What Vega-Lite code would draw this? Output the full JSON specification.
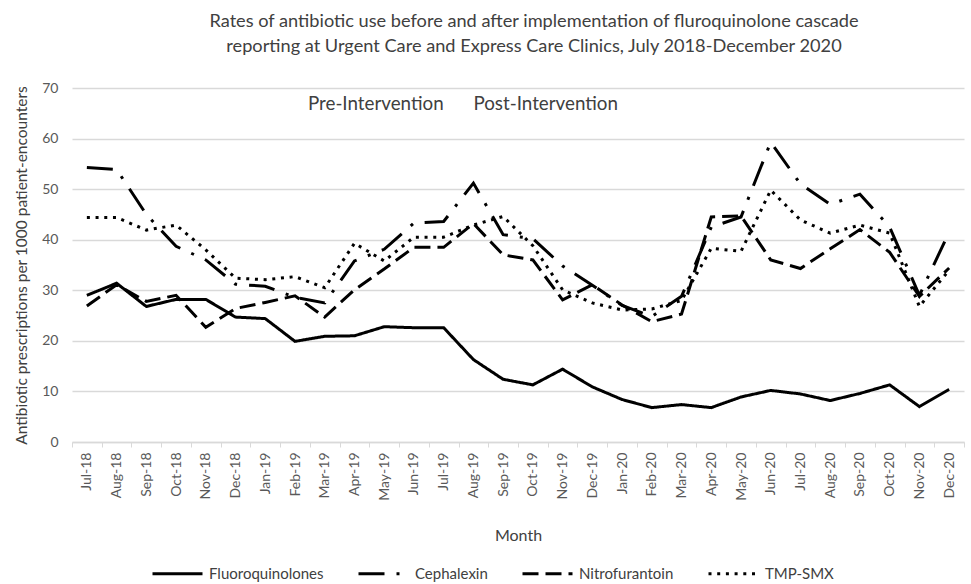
{
  "$schema": "https://vega.github.io/schema/vega-lite/v6.json",
  "autosize": {"type": "none"},
  "padding": {"left": 72, "top": 88, "right": 7, "bottom": 142},
  "width": 892,
  "height": 354,
  "background": "white",
  "title": {
    "text": ["Rates of antibiotic use before and after implementation of fluroquinolone cascade", "reporting at Urgent Care and Express Care Clinics, July 2018-December 2020"],
    "font": "Lato", "fontSize": 18.2, "fontWeight": "normal", "color": "#404040",
    "lineHeight": 25, "offset": 25, "dx": 16, "anchor": "middle", "frame": "group"
  },
  "datasets": {
    "rates": [
      {"month":"Jul-18","drug":"Fluoroquinolones","value":29.0},{"month":"Aug-18","drug":"Fluoroquinolones","value":31.4},{"month":"Sep-18","drug":"Fluoroquinolones","value":26.8},{"month":"Oct-18","drug":"Fluoroquinolones","value":28.2},{"month":"Nov-18","drug":"Fluoroquinolones","value":28.2},{"month":"Dec-18","drug":"Fluoroquinolones","value":24.7},{"month":"Jan-19","drug":"Fluoroquinolones","value":24.4},{"month":"Feb-19","drug":"Fluoroquinolones","value":19.9},{"month":"Mar-19","drug":"Fluoroquinolones","value":20.9},{"month":"Apr-19","drug":"Fluoroquinolones","value":21.0},{"month":"May-19","drug":"Fluoroquinolones","value":22.8},{"month":"Jun-19","drug":"Fluoroquinolones","value":22.6},{"month":"Jul-19","drug":"Fluoroquinolones","value":22.6},{"month":"Aug-19","drug":"Fluoroquinolones","value":16.3},{"month":"Sep-19","drug":"Fluoroquinolones","value":12.4},{"month":"Oct-19","drug":"Fluoroquinolones","value":11.3},{"month":"Nov-19","drug":"Fluoroquinolones","value":14.4},{"month":"Dec-19","drug":"Fluoroquinolones","value":10.9},{"month":"Jan-20","drug":"Fluoroquinolones","value":8.4},{"month":"Feb-20","drug":"Fluoroquinolones","value":6.8},{"month":"Mar-20","drug":"Fluoroquinolones","value":7.4},{"month":"Apr-20","drug":"Fluoroquinolones","value":6.8},{"month":"May-20","drug":"Fluoroquinolones","value":8.9},{"month":"Jun-20","drug":"Fluoroquinolones","value":10.2},{"month":"Jul-20","drug":"Fluoroquinolones","value":9.5},{"month":"Aug-20","drug":"Fluoroquinolones","value":8.2},{"month":"Sep-20","drug":"Fluoroquinolones","value":9.6},{"month":"Oct-20","drug":"Fluoroquinolones","value":11.3},{"month":"Nov-20","drug":"Fluoroquinolones","value":7.0},{"month":"Dec-20","drug":"Fluoroquinolones","value":10.4},
      {"month":"Jul-18","drug":"Cephalexin","value":54.3},{"month":"Aug-18","drug":"Cephalexin","value":53.9},{"month":"Sep-18","drug":"Cephalexin","value":45.0},{"month":"Oct-18","drug":"Cephalexin","value":38.7},{"month":"Nov-18","drug":"Cephalexin","value":36.0},{"month":"Dec-18","drug":"Cephalexin","value":31.2},{"month":"Jan-19","drug":"Cephalexin","value":30.8},{"month":"Feb-19","drug":"Cephalexin","value":28.6},{"month":"Mar-19","drug":"Cephalexin","value":27.5},{"month":"Apr-19","drug":"Cephalexin","value":35.8},{"month":"May-19","drug":"Cephalexin","value":38.1},{"month":"Jun-19","drug":"Cephalexin","value":43.3},{"month":"Jul-19","drug":"Cephalexin","value":43.6},{"month":"Aug-19","drug":"Cephalexin","value":51.2},{"month":"Sep-19","drug":"Cephalexin","value":41.0},{"month":"Oct-19","drug":"Cephalexin","value":40.2},{"month":"Nov-19","drug":"Cephalexin","value":34.8},{"month":"Dec-19","drug":"Cephalexin","value":31.0},{"month":"Jan-20","drug":"Cephalexin","value":27.0},{"month":"Feb-20","drug":"Cephalexin","value":24.8},{"month":"Mar-20","drug":"Cephalexin","value":28.8},{"month":"Apr-20","drug":"Cephalexin","value":42.5},{"month":"May-20","drug":"Cephalexin","value":44.5},{"month":"Jun-20","drug":"Cephalexin","value":59.3},{"month":"Jul-20","drug":"Cephalexin","value":51.0},{"month":"Aug-20","drug":"Cephalexin","value":47.0},{"month":"Sep-20","drug":"Cephalexin","value":49.0},{"month":"Oct-20","drug":"Cephalexin","value":42.5},{"month":"Nov-20","drug":"Cephalexin","value":29.0},{"month":"Dec-20","drug":"Cephalexin","value":41.5},
      {"month":"Jul-18","drug":"Nitrofurantoin","value":26.9},{"month":"Aug-18","drug":"Nitrofurantoin","value":31.1},{"month":"Sep-18","drug":"Nitrofurantoin","value":27.8},{"month":"Oct-18","drug":"Nitrofurantoin","value":29.0},{"month":"Nov-18","drug":"Nitrofurantoin","value":22.7},{"month":"Dec-18","drug":"Nitrofurantoin","value":26.4},{"month":"Jan-19","drug":"Nitrofurantoin","value":27.6},{"month":"Feb-19","drug":"Nitrofurantoin","value":28.9},{"month":"Mar-19","drug":"Nitrofurantoin","value":24.7},{"month":"Apr-19","drug":"Nitrofurantoin","value":30.1},{"month":"May-19","drug":"Nitrofurantoin","value":34.2},{"month":"Jun-19","drug":"Nitrofurantoin","value":38.5},{"month":"Jul-19","drug":"Nitrofurantoin","value":38.5},{"month":"Aug-19","drug":"Nitrofurantoin","value":43.2},{"month":"Sep-19","drug":"Nitrofurantoin","value":37.0},{"month":"Oct-19","drug":"Nitrofurantoin","value":36.0},{"month":"Nov-19","drug":"Nitrofurantoin","value":28.1},{"month":"Dec-19","drug":"Nitrofurantoin","value":31.1},{"month":"Jan-20","drug":"Nitrofurantoin","value":27.1},{"month":"Feb-20","drug":"Nitrofurantoin","value":23.8},{"month":"Mar-20","drug":"Nitrofurantoin","value":25.3},{"month":"Apr-20","drug":"Nitrofurantoin","value":44.5},{"month":"May-20","drug":"Nitrofurantoin","value":44.7},{"month":"Jun-20","drug":"Nitrofurantoin","value":36.0},{"month":"Jul-20","drug":"Nitrofurantoin","value":34.3},{"month":"Aug-20","drug":"Nitrofurantoin","value":38.2},{"month":"Sep-20","drug":"Nitrofurantoin","value":42.0},{"month":"Oct-20","drug":"Nitrofurantoin","value":37.5},{"month":"Nov-20","drug":"Nitrofurantoin","value":28.8},{"month":"Dec-20","drug":"Nitrofurantoin","value":34.4},
      {"month":"Jul-18","drug":"TMP-SMX","value":44.4},{"month":"Aug-18","drug":"TMP-SMX","value":44.4},{"month":"Sep-18","drug":"TMP-SMX","value":41.9},{"month":"Oct-18","drug":"TMP-SMX","value":42.9},{"month":"Nov-18","drug":"TMP-SMX","value":38.0},{"month":"Dec-18","drug":"TMP-SMX","value":32.4},{"month":"Jan-19","drug":"TMP-SMX","value":32.1},{"month":"Feb-19","drug":"TMP-SMX","value":32.7},{"month":"Mar-19","drug":"TMP-SMX","value":30.5},{"month":"Apr-19","drug":"TMP-SMX","value":39.3},{"month":"May-19","drug":"TMP-SMX","value":35.8},{"month":"Jun-19","drug":"TMP-SMX","value":40.5},{"month":"Jul-19","drug":"TMP-SMX","value":40.5},{"month":"Aug-19","drug":"TMP-SMX","value":42.9},{"month":"Sep-19","drug":"TMP-SMX","value":44.6},{"month":"Oct-19","drug":"TMP-SMX","value":38.8},{"month":"Nov-19","drug":"TMP-SMX","value":30.1},{"month":"Dec-19","drug":"TMP-SMX","value":27.5},{"month":"Jan-20","drug":"TMP-SMX","value":26.1},{"month":"Feb-20","drug":"TMP-SMX","value":26.3},{"month":"Mar-20","drug":"TMP-SMX","value":28.0},{"month":"Apr-20","drug":"TMP-SMX","value":38.3},{"month":"May-20","drug":"TMP-SMX","value":37.7},{"month":"Jun-20","drug":"TMP-SMX","value":49.8},{"month":"Jul-20","drug":"TMP-SMX","value":43.9},{"month":"Aug-20","drug":"TMP-SMX","value":41.3},{"month":"Sep-20","drug":"TMP-SMX","value":42.9},{"month":"Oct-20","drug":"TMP-SMX","value":41.3},{"month":"Nov-20","drug":"TMP-SMX","value":26.8},{"month":"Dec-20","drug":"TMP-SMX","value":34.0}
    ],
    "notes": [
      {"label": "Pre-Intervention", "month": "Jul-19", "value": 66.9},
      {"label": "Post-Intervention", "month": "Aug-19", "value": 66.9}
    ]
  },
  "encoding": {
    "x": {
      "field": "month", "type": "ordinal", "sort": null,
      "scale": {"type": "band", "paddingInner": 0, "paddingOuter": 0,
        "domain": ["Jul-18","Aug-18","Sep-18","Oct-18","Nov-18","Dec-18","Jan-19","Feb-19","Mar-19","Apr-19","May-19","Jun-19","Jul-19","Aug-19","Sep-19","Oct-19","Nov-19","Dec-19","Jan-20","Feb-20","Mar-20","Apr-20","May-20","Jun-20","Jul-20","Aug-20","Sep-20","Oct-20","Nov-20","Dec-20"]},
      "axis": {
        "title": "Month", "titleFont": "Lato", "titleFontSize": 16, "titleFontWeight": "normal", "titleColor": "#404040", "titlePadding": 27,
        "labelAngle": -90, "labelFont": "Lato", "labelFontSize": 14, "labelColor": "#595959", "labelPadding": 5,
        "tickBand": "extent", "ticks": true, "tickSize": 5, "tickColor": "#d9d9d9", "domainColor": "#d9d9d9", "domainWidth": 1.5, "grid": false
      }
    },
    "y": {
      "field": "value", "type": "quantitative",
      "scale": {"domain": [0, 70], "nice": false},
      "axis": {
        "title": "Antibiotic prescriptions per 1000 patient-encounters", "titleFont": "Lato", "titleFontSize": 15.5, "titleFontWeight": "normal", "titleColor": "#404040", "titlePadding": 12,
        "values": [0,10,20,30,40,50,60,70], "labelFont": "Lato", "labelFontSize": 14, "labelColor": "#595959", "labelPadding": 14,
        "ticks": false, "domain": false, "grid": true, "gridColor": "#d9d9d9", "gridWidth": 1.5
      }
    }
  },
  "layer": [
    {
      "data": {"name": "rates"},
      "mark": {"type": "line", "color": "black", "strokeWidth": 3, "strokeCap": "butt"},
      "encoding": {
        "detail": {"field": "drug"},
        "strokeDash": {
          "field": "drug", "type": "nominal",
          "scale": {"domain": ["Fluoroquinolones", "Cephalexin", "Nitrofurantoin", "TMP-SMX"], "range": [[1, 0], [26, 12, 3, 12], [16, 7], [3, 5.7]]},
          "legend": {
            "title": null, "orient": "none", "legendX": 79, "legendY": 459, "direction": "horizontal",
            "symbolType": "stroke", "symbolSize": 2500, "symbolStrokeWidth": 3, "symbolStrokeColor": "black",
            "labelFont": "Lato", "labelFontSize": 15, "labelColor": "#404040", "columnPadding": 28, "labelOffset": 5
          }
        }
      }
    },
    {
      "data": {"name": "notes"},
      "transform": [{"filter": "datum.label == 'Pre-Intervention'"}],
      "mark": {"type": "text", "align": "right", "baseline": "middle", "font": "Lato", "fontSize": 18.8, "color": "#404040"},
      "encoding": {"text": {"field": "label"}}
    },
    {
      "data": {"name": "notes"},
      "transform": [{"filter": "datum.label == 'Post-Intervention'"}],
      "mark": {"type": "text", "align": "left", "baseline": "middle", "font": "Lato", "fontSize": 18.8, "color": "#404040"},
      "encoding": {"text": {"field": "label"}}
    }
  ],
  "config": {"view": {"stroke": null}}
}
